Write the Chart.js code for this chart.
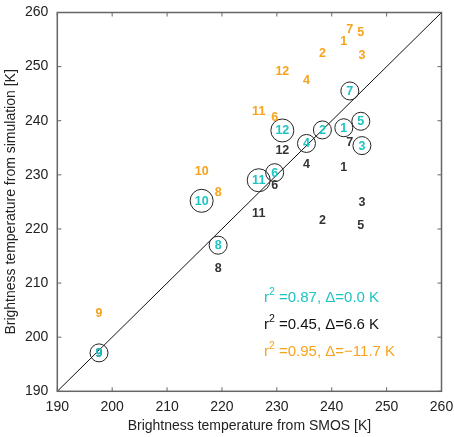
<!DOCTYPE html>
<html>
<head>
<meta charset="utf-8">
<script src="https://cdn.jsdelivr.net/npm/chart.js@4"></script>
<style>
  html, body { margin: 0; padding: 0; background: #fff; }
  #wrap { width: 454px; height: 437px; }
</style>
</head>
<body>
<div id="wrap"><canvas id="chart" width="454" height="437"></canvas></div>
<script>
'use strict'

// month index labels
const labels = ['1', '2', '3', '4', '5', '6', '7', '8', '9', '10', '11', '12']

// brightness temperature from SMOS [K] (shared x for all three runs)
const smos = [242.2, 238.3, 245.5, 235.4, 245.3, 229.6, 243.3, 219.3, 197.6, 216.3, 226.7, 231.0]

// brightness temperature from simulation [K]
const simCyan = [238.7, 238.3, 235.4, 235.8, 239.9, 230.4, 245.5, 217.0, 197.1, 225.2, 229.0, 238.2]
const simBlack = [231.5, 221.6, 225.0, 232.0, 220.8, 228.2, 236.1, 212.8, 197.0, null, 222.9, 234.6]
const simOrange = [254.8, 252.5, 252.1, 247.5, 256.3, 240.7, 256.9, 226.9, 204.4, 230.7, 241.8, 249.1]

const axisTicks = [190, 200, 210, 220, 230, 240, 250, 260]
const oneToOne = [190, 260]

const statLines = [
    { color: '#1cc4c4', text: ' =0.87, \u0394=0.0 K' },
    { color: '#111111', text: ' =0.45, \u0394=6.6 K' },
    { color: '#f8a31b', text: ' =0.95, \u0394=\u221211.7 K' }
]

const CYAN = '#1cc4c4'
const BLACK = '#333333'
const ORANGE = '#f8a31b'
const FONT = "'Liberation Sans', Arial, Helvetica, sans-serif"

const toPoints = ys => smos.map((x, i) => ({ x: x, y: ys[i] }))
    .filter(p => p.y != null)
const labelsFor = ys => labels.filter((l, i) => ys[i] != null)

const series = [
    { ys: simOrange, color: ORANGE },
    { ys: simBlack, color: BLACK },
    { ys: simCyan, color: CYAN }
]

// draws the box, inward ticks, number labels and the stats block
const overlay = {
    id: 'overlay',
    afterDatasetsDraw(chart) {
        const c = chart.ctx
        const { left, right, top, bottom } = chart.chartArea
        const xs = chart.scales.x
        const ys = chart.scales.y

        c.save()

        // number labels
        c.font = 'bold 12.5px ' + FONT
        c.textAlign = 'center'
        c.textBaseline = 'middle'
        series.forEach(s => {
            c.fillStyle = s.color
            smos.forEach((x, i) => {
                if (s.ys[i] == null) return
                c.fillText(labels[i], xs.getPixelForValue(x), ys.getPixelForValue(s.ys[i]) + 0.5)
            })
        })

        // frame
        c.strokeStyle = '#666'
        c.lineWidth = 1.5
        c.strokeRect(left, top, right - left, bottom - top)

        // inward ticks on all four sides
        c.lineWidth = 1
        c.beginPath()
        axisTicks.forEach(t => {
            const px = xs.getPixelForValue(t)
            const py = ys.getPixelForValue(t)
            c.moveTo(px, bottom); c.lineTo(px, bottom - 4)
            c.moveTo(px, top); c.lineTo(px, top + 4)
            c.moveTo(left, py); c.lineTo(left + 4, py)
            c.moveTo(right, py); c.lineTo(right - 4, py)
        })
        c.stroke()

        // stats block
        c.textAlign = 'left'
        c.textBaseline = 'middle'
        statLines.forEach((line, i) => {
            const x0 = 264
            const y0 = 298 + i * 27
            c.fillStyle = line.color
            c.font = '15px ' + FONT
            c.fillText('r', x0, y0)
            const rw = c.measureText('r').width
            c.font = '10.5px ' + FONT
            c.fillText('2', x0 + rw, y0 - 6)
            const sw = c.measureText('2').width
            c.font = '15px ' + FONT
            c.fillText(line.text, x0 + rw + sw, y0)
        })

        c.restore()
    }
}

const ctx = document.querySelector('#chart').getContext('2d')

const data = {
    datasets: [
        {
            label: 'circles',
            data: toPoints(simCyan),
            showLine: false,
            pointRadius: labelsFor(simCyan).map(l => l.length > 1 ? 11.5 : 9),
            pointBorderColor: '#222',
            pointBackgroundColor: 'rgba(0,0,0,0)',
            pointBorderWidth: 1
        },
        {
            label: 'black',
            data: toPoints(simBlack),
            showLine: false,
            pointRadius: 0
        },
        {
            label: 'orange',
            data: toPoints(simOrange),
            showLine: false,
            pointRadius: 0
        },
        {
            label: '1:1',
            data: oneToOne.map(v => ({ x: v, y: v })),
            showLine: true,
            borderColor: '#111',
            borderWidth: 1,
            pointRadius: 0
        }
    ]
}

const config = {
    type: 'scatter',
    data: data,
    options: {
        responsive: false,
        animation: false,
        layout: { padding: { top: 5.7, right: 12.3, left: 0, bottom: 0 } },
        plugins: {
            legend: { display: false },
            tooltip: { enabled: false }
        },
        scales: {
            x: {
                type: 'linear',
                min: 190,
                max: 260,
                afterBuildTicks: s => { s.ticks = axisTicks.map(v => ({ value: v })) },
                afterFit: s => {
                    s.height = 45.7
                    s.paddingLeft = 0
                    s.paddingRight = 0
                },
                grid: { display: false, drawTicks: false },
                border: { display: false },
                ticks: {
                    padding: 7,
                    color: '#222',
                    font: { family: FONT, size: 14 },
                    maxRotation: 0
                },
                title: {
                    display: true,
                    text: 'Brightness temperature from SMOS [K]',
                    color: '#222',
                    font: { family: FONT, size: 14 },
                    padding: { top: 0, bottom: 2 }
                }
            },
            y: {
                type: 'linear',
                min: 190,
                max: 260,
                afterBuildTicks: s => { s.ticks = axisTicks.map(v => ({ value: v })) },
                afterFit: s => {
                    s.width = 57.3
                    s.paddingTop = 0
                    s.paddingBottom = 0
                },
                grid: { display: false, drawTicks: false },
                border: { display: false },
                ticks: {
                    padding: 9,
                    color: '#222',
                    font: { family: FONT, size: 14 }
                },
                title: {
                    display: true,
                    text: 'Brightness temperature from simulation [K]',
                    color: '#222',
                    font: { family: FONT, size: 14 },
                    padding: { top: 3, bottom: 0 }
                }
            }
        }
    },
    plugins: [overlay]
}

const chart = new Chart(ctx, config)
</script>
</body>
</html>
